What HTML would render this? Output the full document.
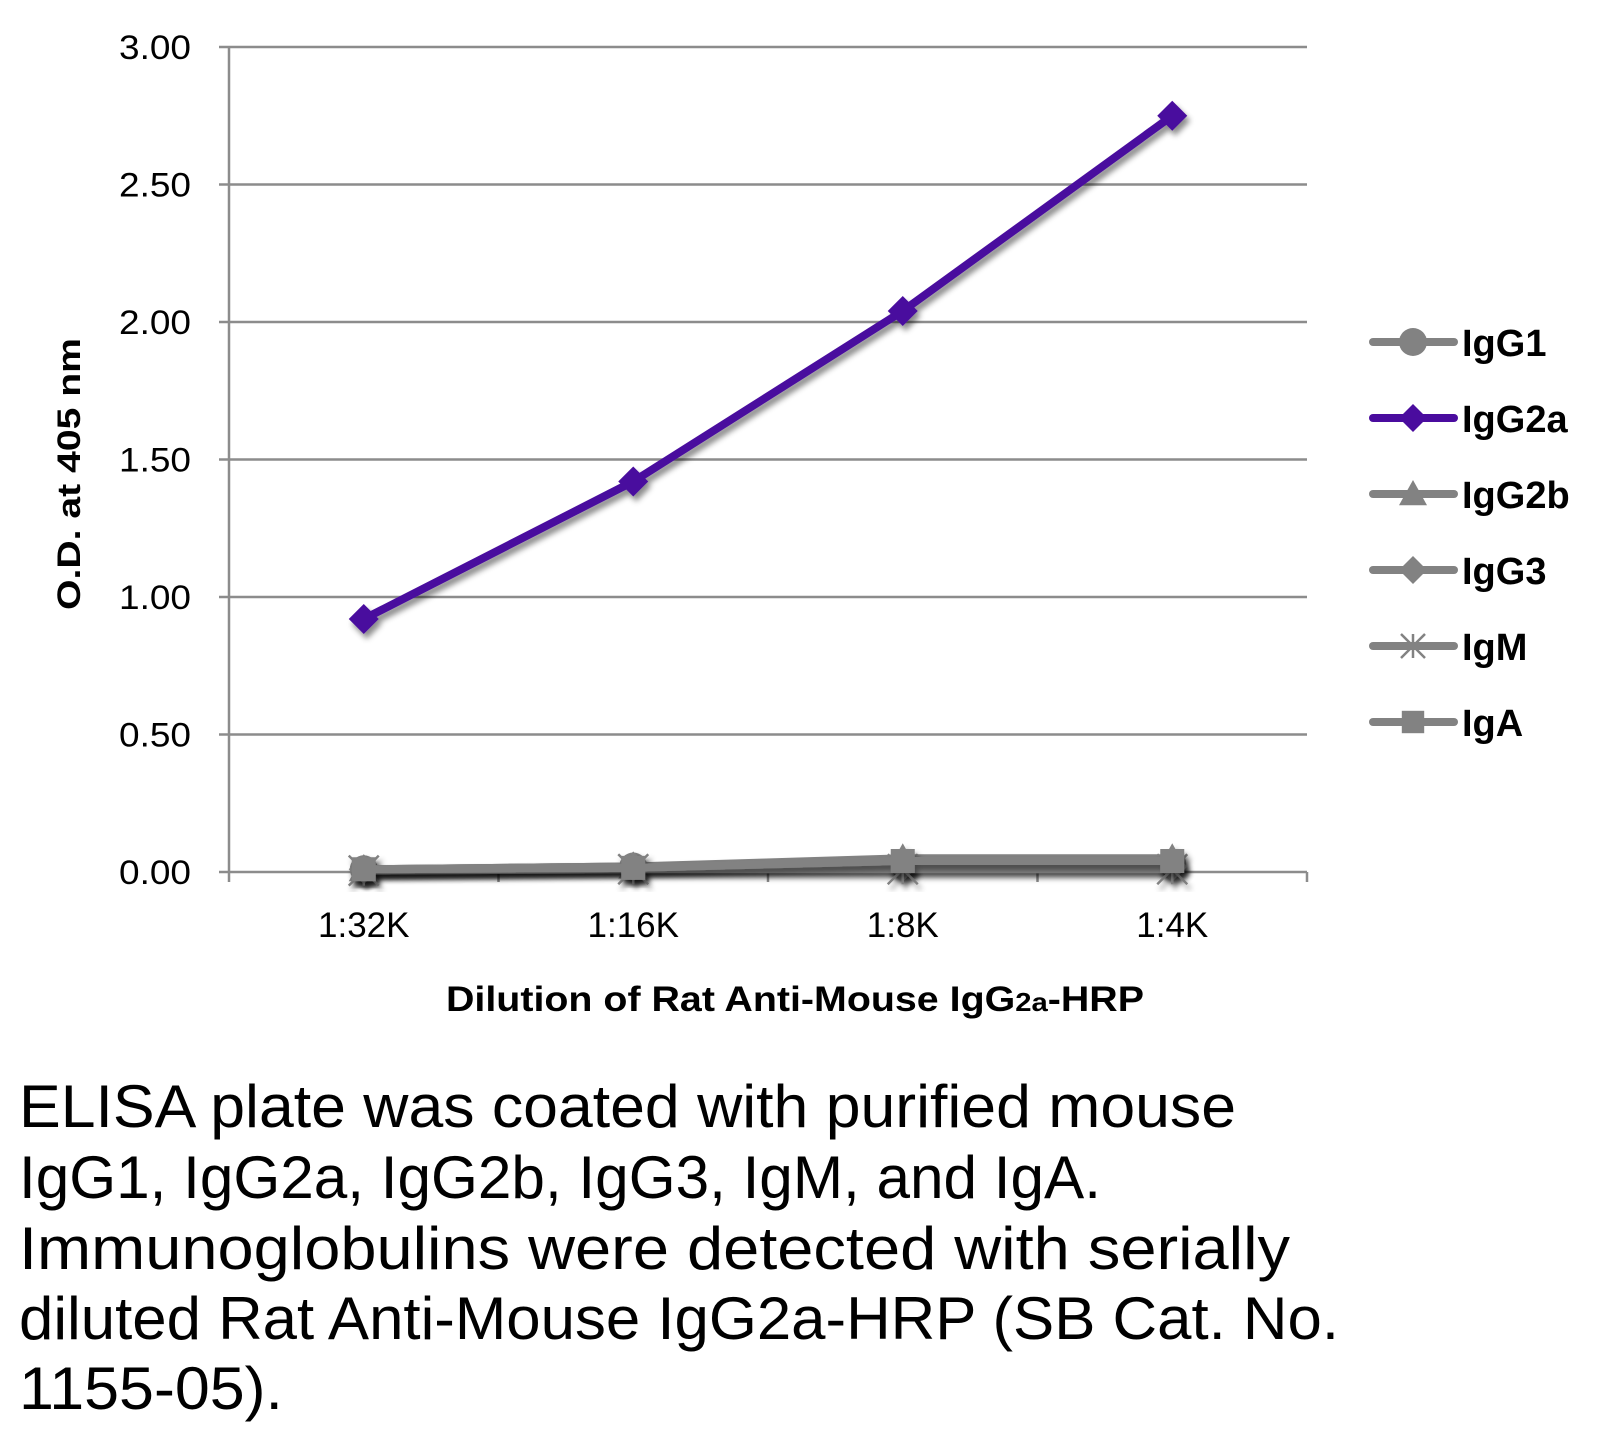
<!DOCTYPE html>
<html><head><meta charset="utf-8"><style>
html,body{margin:0;padding:0;background:#fff;}
svg{display:block;font-family:"Liberation Sans",sans-serif;}
</style></head><body>
<svg id="chart" width="1616" height="1430" viewBox="0 0 1616 1430">
<defs><filter id="sh" x="-20%" y="-20%" width="140%" height="140%"><feDropShadow dx="3" dy="5" stdDeviation="3" flood-color="#000" flood-opacity="0.45"/></filter></defs>
<g id="grid"></g>
<g id="axes"></g>
<g id="series"></g>
<g id="legend"></g>
<text transform="translate(80,474) rotate(-90)" text-anchor="middle" font-weight="bold" font-size="32" textLength="272" lengthAdjust="spacingAndGlyphs">O.D. at 405 nm</text>
<text x="795" y="1011" text-anchor="middle" font-weight="bold" font-size="35" textLength="698" lengthAdjust="spacingAndGlyphs">Dilution of Rat Anti-Mouse IgG<tspan font-size="26">2a</tspan>-HRP</text>
<g font-size="60">
<text x="19" y="1127" textLength="1217" lengthAdjust="spacingAndGlyphs">ELISA plate was coated with purified mouse</text>
<text x="19" y="1198" textLength="1082" lengthAdjust="spacingAndGlyphs">IgG1, IgG2a, IgG2b, IgG3, IgM, and IgA.</text>
<text x="19" y="1269" textLength="1271" lengthAdjust="spacingAndGlyphs">Immunoglobulins were detected with serially</text>
<text x="19" y="1339" textLength="1320" lengthAdjust="spacingAndGlyphs">diluted Rat Anti-Mouse IgG2a-HRP (SB Cat. No.</text>
<text x="19" y="1409" textLength="264" lengthAdjust="spacingAndGlyphs">1155-05).</text>
</g>
</svg>
<script>
const categories = ["1:32K","1:16K","1:8K","1:4K"];
const yTicks = [0,0.5,1,1.5,2,2.5,3];
const yTickLabels = ["0.00","0.50","1.00","1.50","2.00","2.50","3.00"];
const seriesNames = ["IgG1","IgG2a","IgG2b","IgG3","IgM","IgA"];
const igg1 = [0.01,0.02,0.03,0.03];
const igg2a = [0.92,1.42,2.04,2.75];
const igg2b = [0.01,0.02,0.05,0.05];
const igg3 = [0.01,0.02,0.02,0.02];
const igm = [0.005,0.01,0.01,0.01];
const iga = [0.01,0.015,0.04,0.04];

const NS="http://www.w3.org/2000/svg";
const L=229,R=1307,T=47,B=872,YMAX=3;
const bw=(R-L)/categories.length;
const xS=i=>L+bw*(i+0.5);
const yS=v=>B-(v/YMAX)*(B-T);
function mk(tag,attrs,parent){const e=document.createElementNS(NS,tag);for(const k in attrs)e.setAttribute(k,attrs[k]);parent.appendChild(e);return e;}
const grid=document.getElementById('grid'),axes=document.getElementById('axes'),ser=document.getElementById('series'),leg=document.getElementById('legend');
yTicks.forEach((t,i)=>{
  if(t>0){const g=mk('line',{x1:L,x2:R,y1:yS(t),y2:yS(t),stroke:'#8c8c8c','stroke-width':2.5},grid);
  
  }
  const tk=mk('line',{x1:L-10,x2:L,y1:yS(t),y2:yS(t),stroke:'#8c8c8c','stroke-width':2.5},axes);
  
  
  const tx=mk('text',{x:191,y:yS(t)+12,'text-anchor':'end','font-size':34,textLength:72,lengthAdjust:'spacingAndGlyphs'},axes);
  tx.textContent=yTickLabels[i];
  
  
});
const ya=mk('line',{x1:L,x2:L,y1:T,y2:B,stroke:'#8c8c8c','stroke-width':2.5},axes);


const xa=mk('line',{x1:L,x2:R,y1:B,y2:B,stroke:'#8c8c8c','stroke-width':2.5},axes);


for(let i=0;i<=categories.length;i++){const t=mk('line',{x1:L+bw*i,x2:L+bw*i,y1:B,y2:B+10,stroke:'#8c8c8c','stroke-width':2.5},axes);
  
  }
categories.forEach((c,i)=>{const t=mk('text',{x:xS(i),y:937,'text-anchor':'middle','font-size':35},axes);t.textContent=c;
  
  });

function marker(type,x,y,color,s,parent){
  if(type==='circle')return mk('circle',{cx:x,cy:y,r:s,fill:color},parent);
  if(type==='diamond')return mk('polygon',{points:`${x},${y-s} ${x+s},${y} ${x},${y+s} ${x-s},${y}`,fill:color},parent);
  if(type==='triangle')return mk('polygon',{points:`${x},${y-s} ${x+s},${y+s*0.8} ${x-s},${y+s*0.8}`,fill:color},parent);
  if(type==='square')return mk('rect',{x:x-s*0.8,y:y-s*0.8,width:s*1.6,height:s*1.6,fill:color},parent);
  const g=mk('g',{stroke:color,'stroke-width':2.5},parent);
  mk('line',{x1:x-s,y1:y-s,x2:x+s,y2:y+s},g);mk('line',{x1:x-s,y1:y+s,x2:x+s,y2:y-s},g);mk('line',{x1:x,y1:y-s,x2:x,y2:y+s},g);
  return g;
}
const GREY='#828282',PUR='#4a0c9e';
const defs=[[igg1,GREY,'circle'],[igg2a,PUR,'diamond'],[igg2b,GREY,'triangle'],[igg3,GREY,'diamond'],[igm,GREY,'star'],[iga,GREY,'square']];
const order=[0,2,3,4,5,1];
order.forEach(si=>{
  const [vals,color,mt]=defs[si];
  const g=mk('g',{filter:'url(#sh)'},ser);
  
  
  const pl=mk('polyline',{points:vals.map((v,i)=>xS(i)+','+yS(v)).join(' '),fill:'none',stroke:color,'stroke-width':8,'stroke-linejoin':'round'},g);
  
  
  vals.forEach((v,i)=>{const m=marker(mt,xS(i),yS(v),color,mt==='circle'?14:15,g);
    
    });
});
seriesNames.forEach((n,i)=>{
  const [,color,mt]=defs[i];
  const y=342+i*76;
  const g=mk('g',{},leg);
  
  
  mk('line',{x1:1373,x2:1454,y1:y,y2:y,stroke:color,'stroke-width':8,'stroke-linecap':'round'},g);
  marker(mt,1413,y,color,mt==='circle'?14:mt==='star'?12:14,g);
  const t=mk('text',{x:1462,y:y+14,'font-size':38,'font-weight':'bold'},g);t.textContent=n;
});
</script>
</body></html>
